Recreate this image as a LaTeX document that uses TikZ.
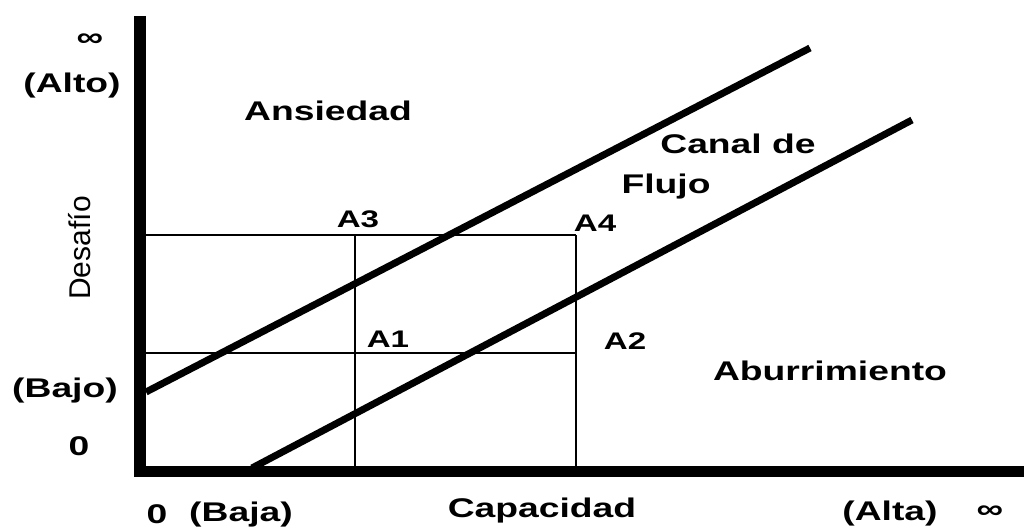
\documentclass[tikz,border=0pt]{standalone}
\usepackage{fontspec}
\newfontfamily\lbl[FakeStretch=1.38]{Liberation Sans}
\newfontfamily\ylbl{Liberation Sans}
\begin{document}
\begin{tikzpicture}[x=1pt,y=-1pt,
  txt/.style={inner sep=0pt,anchor=base,font=\lbl\bfseries\fontsize{27}{30}\selectfont},
  smalltxt/.style={txt,font=\lbl\bfseries\fontsize{24}{28}\selectfont},
  axis/.style={line width=12pt},
  diag/.style={line width=7pt},
  grid/.style={line width=1.6pt}]
\useasboundingbox[fill=white] (0,0) rectangle (1024,527);
% axes
\coordinate (ytop) at (140,16);
\coordinate (origin) at (140,477);
\coordinate (xo) at (134,471.5);
\coordinate (xend) at (1024,471.5);
\draw[axis] (ytop) -- (origin);
\draw[line width=11pt] (xo) -- (xend);
% grid
\coordinate (g1) at (146,235);
\coordinate (g2) at (576,235);
\coordinate (g3) at (146,353);
\coordinate (g4) at (576,353);
\coordinate (v1t) at (355,235);
\coordinate (v1b) at (355,466);
\coordinate (v2b) at (576,466);
\draw[grid] (g1) -- (g2);
\draw[grid] (g3) -- (g4);
\draw[grid] (v1t) -- (v1b);
\draw[grid] (g2) -- (v2b);
% channel lines
\coordinate (u1) at (146,392);
\coordinate (u2) at (810,48);
\coordinate (l1) at (252,468);
\coordinate (l2) at (912,120);
\draw[diag] (u1) -- (u2);
\draw[diag] (l1) -- (l2);
% labels
\node[txt] (inftop) at (90,46) {∞};
\node[txt] (alto) at (72,92) {(Alto)};
\node[txt] (bajo) at (65,397) {(Bajo)};
\node[txt] (zeroy) at (79,455) {0};
\node[txt] (zerox) at (157,523) {0};
\node[txt] (baja) at (241,521) {(Baja)};
\node[txt] (cap) at (542,517) {Capacidad};
\node[txt] (alta) at (890,520) {(Alta)};
\node[txt] (infright) at (990,518) {∞};
\node[txt] (ans) at (328,120) {Ansiedad};
\node[txt] (canal) at (738,153) {Canal de};
\node[txt] (flujo) at (666,193) {Flujo};
\node[smalltxt] (a3) at (358,227) {A3};
\node[smalltxt] (a4) at (595,231) {A4};
\node[smalltxt] (a1) at (388,347) {A1};
\node[smalltxt] (a2) at (625,349) {A2};
\node[txt] (abu) at (830,380) {Aburrimiento};
\node[inner sep=0pt,anchor=base,rotate=90,font=\ylbl\fontsize{30}{34}\selectfont] (des) at (90,248) {Desafío};
\end{tikzpicture}
\end{document}
